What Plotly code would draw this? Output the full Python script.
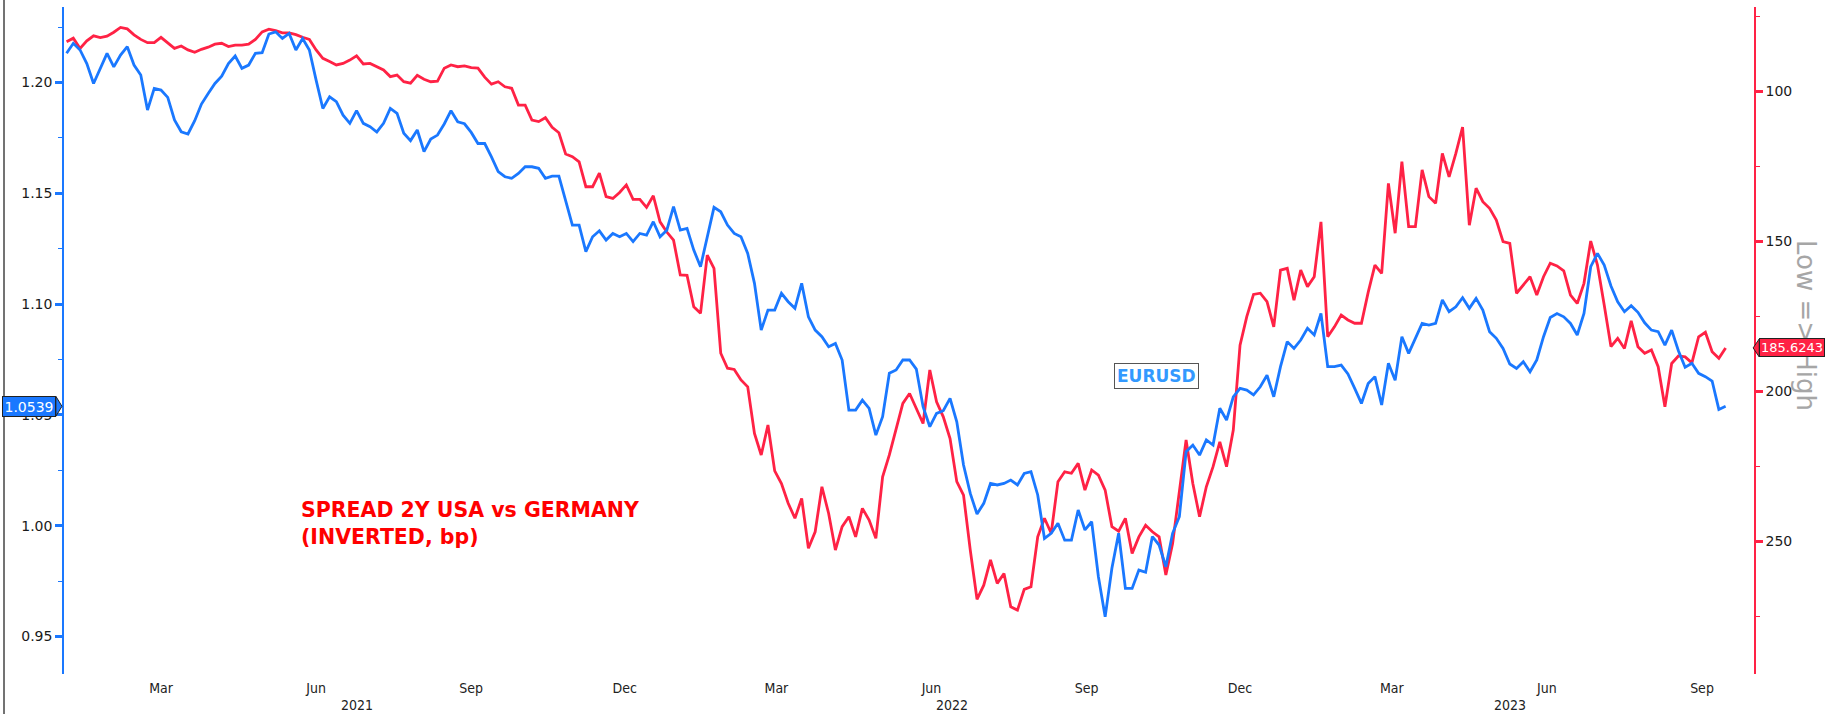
import pandas as pd
import plotly.graph_objects as go

# ---------------- data ----------------
START_DATE = "2021-01-04"
STEP = "4D"

eurusd = [
    1.2132, 1.2177, 1.2147, 1.2086, 1.1996, 1.2064, 1.2132, 1.2071, 1.2124, 1.2162,
    1.2079, 1.2034, 1.1876, 1.1974, 1.1966, 1.1933, 1.1831, 1.1778, 1.1768, 1.1828,
    1.1903, 1.1951, 1.1996, 1.2029, 1.2086, 1.2120, 1.2064, 1.2079, 1.2132, 1.2135,
    1.2219, 1.2229, 1.2199, 1.2222, 1.2147, 1.2199, 1.2147, 1.2011, 1.1883, 1.1936,
    1.1914, 1.1853, 1.1816, 1.1873, 1.1816, 1.1801, 1.1777, 1.1816, 1.1883, 1.1861,
    1.1771, 1.1738, 1.1786, 1.1688, 1.1745, 1.1763, 1.1813, 1.1873, 1.1823, 1.1814,
    1.1775, 1.1725, 1.1725, 1.1665, 1.1598, 1.1575, 1.1568, 1.1590, 1.1620, 1.1620,
    1.1613, 1.1568, 1.1578, 1.1578, 1.1462, 1.1357, 1.1357, 1.1237, 1.1304, 1.1331,
    1.1289, 1.1319, 1.1304, 1.1319, 1.1282, 1.1319, 1.1312, 1.1372, 1.1304, 1.1334,
    1.1440, 1.1334, 1.1342, 1.1244, 1.1169, 1.1304, 1.1437, 1.1417, 1.1357, 1.1319,
    1.1304, 1.1229, 1.1094, 1.0883, 1.0973, 1.0973, 1.1049, 1.1011, 1.0981, 1.1094,
    1.0943, 1.0883, 1.0853, 1.0808, 1.0823, 1.0748, 1.0522, 1.0522, 1.0567, 1.0530,
    1.0409, 1.0492, 1.0688, 1.0703, 1.0748, 1.0748, 1.0707, 1.0537, 1.0447, 1.0507,
    1.0519, 1.0575, 1.0469, 1.0274, 1.0146, 1.0053, 1.0101, 1.0191, 1.0184, 1.0191,
    1.0206, 1.0184, 1.0236, 1.0244, 1.0139, 0.9943, 0.9966, 1.0011, 0.9935, 0.9935,
    1.0071, 0.9981, 1.0018, 0.9770, 0.9589, 0.9808, 0.9966, 0.9717, 0.9717, 0.9800,
    0.9790, 0.9951, 0.9913, 0.9815, 0.9966, 1.0041, 1.0334, 1.0364, 1.0319, 1.0387,
    1.0364, 1.0530, 1.0477, 1.0582, 1.0620, 1.0612, 1.0591, 1.0627, 1.0679, 1.0582,
    1.0718, 1.0831, 1.0800, 1.0838, 1.0891, 1.0861, 1.0958, 1.0718, 1.0718, 1.0725,
    1.0685, 1.0620, 1.0552, 1.0642, 1.0673, 1.0545, 1.0733, 1.0657, 1.0853, 1.0778,
    1.0846, 1.0913, 1.0906, 1.0913, 1.1019, 1.0966, 1.0988, 1.1029, 1.0981, 1.1026,
    1.0973, 1.0876, 1.0846, 1.0800, 1.0730, 1.0710, 1.0740, 1.0695, 1.0748, 1.0853,
    1.0940, 1.0958, 1.0943, 1.0913, 1.0861, 1.0958, 1.1169, 1.1229, 1.1176, 1.1082,
    1.1011, 1.0966, 1.0993, 1.0963, 1.0916, 1.0883, 1.0876, 1.0815, 1.0883, 1.0790,
    1.0715, 1.0733, 1.0688, 1.0673, 1.0653, 1.0525, 1.0539,
]

spread_bp = [
    83.6, 82.4, 85.8, 83.3, 81.6, 82.2, 81.7, 80.4, 78.8, 79.3,
    81.3, 82.8, 83.9, 83.9, 82.1, 84.1, 85.8, 85.0, 86.3, 87.1,
    86.1, 85.4, 84.4, 84.1, 85.2, 84.7, 84.7, 84.4, 82.8, 80.3,
    79.4, 79.9, 80.6, 80.6, 81.2, 82.1, 82.8, 86.3, 89.1, 90.2,
    91.3, 90.8, 89.7, 88.3, 91.0, 90.8, 91.9, 93.0, 95.2, 94.7,
    96.9, 97.4, 94.8, 96.1, 96.9, 96.7, 92.4, 91.3, 91.9, 91.6,
    92.2, 92.4, 95.4, 97.7, 96.9, 98.6, 99.1, 104.7, 104.7, 109.7,
    110.2, 108.9, 112.1, 113.9, 121.0, 121.9, 123.6, 131.9, 131.9, 127.4,
    135.2, 135.8, 133.8, 131.3, 136.1, 136.1, 138.8, 134.9, 143.6, 147.0,
    149.7, 161.3, 161.4, 171.9, 174.1, 154.7, 159.1, 187.4, 192.4, 192.8,
    196.3, 198.6, 214.1, 221.3, 211.3, 226.6, 230.8, 237.4, 242.4, 235.8,
    252.4, 246.9, 231.9, 240.8, 253.0, 245.2, 241.9, 248.6, 239.1, 243.0,
    249.1, 228.6, 221.3, 212.4, 204.1, 200.8, 205.8, 210.8, 193.0, 203.6,
    208.6, 215.8, 230.2, 234.7, 253.0, 269.4, 264.7, 256.3, 264.1, 260.8,
    271.9, 273.0, 266.1, 265.2, 248.6, 242.4, 247.4, 230.2, 226.9, 227.4,
    224.1, 233.0, 226.3, 228.0, 233.0, 245.2, 246.7, 242.4, 254.1, 248.6,
    244.7, 246.9, 248.6, 261.3, 250.8, 233.0, 216.3, 230.8, 241.9, 231.9,
    225.2, 216.9, 225.2, 213.0, 184.7, 175.2, 167.8, 167.4, 170.2, 178.6,
    159.7, 159.1, 169.7, 159.7, 165.2, 161.9, 143.6, 181.9, 178.6, 174.7,
    176.3, 177.4, 177.4, 167.1, 158.0, 160.8, 130.8, 147.4, 123.5, 145.2,
    145.2, 126.3, 135.2, 137.4, 120.8, 128.6, 120.8, 112.0, 144.7, 132.4,
    136.9, 139.1, 143.0, 150.2, 150.8, 167.4, 164.7, 161.9, 168.0, 161.9,
    157.4, 158.3, 159.9, 168.0, 170.8, 164.1, 150.0, 158.0, 171.3, 185.2,
    182.4, 185.8, 176.6, 185.2, 187.4, 186.3, 191.9, 205.2, 190.8, 188.3,
    188.6, 190.6, 181.9, 180.4, 186.9, 189.1, 185.6243,
]

month_tick_dates = ["2021-03-01", "2021-06-01", "2021-09-01", "2021-12-01",
                    "2022-03-01", "2022-06-01", "2022-09-01", "2022-12-01",
                    "2023-03-01", "2023-06-01", "2023-09-01"]
month_tick_text = ["Mar", "Jun", "Sep", "Dec", "Mar", "Jun", "Sep", "Dec", "Mar", "Jun", "Sep"]
year_labels = ["2021", "2022", "2023"]
year_label_dates = ["2021-06-25 12:00", "2022-06-13", "2023-05-10"]

eur_ticks = [0.95, 1.00, 1.05, 1.10, 1.15, 1.20]
eur_minor = [0.975, 1.025, 1.075, 1.125, 1.175, 1.225]
spr_ticks = [100, 150, 200, 250]
spr_minor = [75, 125, 175, 225, 275]

dates = pd.date_range(START_DATE, periods=len(eurusd), freq=STEP)

BLUE = "#1a78ff"
RED = "#ff2245"
NARROW = "Liberation Sans Narrow, DejaVu Sans Condensed, Arial Narrow, sans-serif"
TICKFONT = dict(family="DejaVu Sans, Verdana, sans-serif", size=14, color="#1a1a1a")

fig = go.Figure()
fig.add_trace(go.Scatter(x=dates, y=spread_bp, mode="lines", yaxis="y",
                         line=dict(color=RED, width=2.8), hoverinfo="skip"))
fig.add_trace(go.Scatter(x=dates, y=eurusd, mode="lines", yaxis="y2",
                         line=dict(color=BLUE, width=2.8), hoverinfo="skip"))

fig.update_layout(
    width=1826, height=714,
    margin=dict(l=64, r=72, t=7, b=40),
    paper_bgcolor="white", plot_bgcolor="white",
    showlegend=False,
    hovermode=False,
    xaxis=dict(type="date", range=["2021-01-02 11:17", "2023-10-01 20:10"],
               tickmode="array", tickvals=month_tick_dates, ticktext=month_tick_text,
               showgrid=False, showline=False, zeroline=False, ticks="",
               ticklabelstandoff=4,
               tickfont=dict(family=NARROW, size=14, color="#222")),
    yaxis=dict(side="right", range=[294.3, 72], tickmode="array", tickvals=spr_ticks,
               showgrid=False, zeroline=False, showline=True, linecolor=RED, linewidth=1.5,
               ticks="outside", ticklen=7, tickwidth=2.5, tickcolor=RED,
               minor=dict(tickmode="array", tickvals=spr_minor, ticks="outside",
                          ticklen=4, tickwidth=1, tickcolor=RED, showgrid=False),
               tickfont=TICKFONT),
    yaxis2=dict(side="left", overlaying="y", range=[0.9331, 1.2341], tickmode="array",
                tickvals=eur_ticks, tickformat=".2f",
                showgrid=False, zeroline=False, showline=True, linecolor=BLUE, linewidth=1.5,
                ticks="outside", ticklen=7, tickwidth=2.5, tickcolor=BLUE,
                minor=dict(tickmode="array", tickvals=eur_minor, ticks="outside",
                           ticklen=4, tickwidth=1, tickcolor=BLUE, showgrid=False),
                tickfont=TICKFONT),
)

annotations = []
for lab, d in zip(year_labels, year_label_dates):
    annotations.append(dict(x=d, xref="x", y=-0.0465, yref="paper", text=lab,
                            showarrow=False, xanchor="center", yanchor="middle",
                            font=dict(family=NARROW, size=14, color="#222")))

annotations.append(dict(x=0.139, xref="paper", y=0.2249, yref="paper",
                        text="<b>SPREAD 2Y USA vs GERMANY<br>(INVERTED, bp)</b>",
                        showarrow=False, xanchor="left", yanchor="middle", align="left",
                        font=dict(family="DejaVu Sans, Verdana, sans-serif", size=20.5, color="#ff0000")))

annotations.append(dict(x=0.6462, xref="paper", y=0.4475, yref="paper",
                        text="<b>EURUSD</b>", showarrow=False, xanchor="center", yanchor="middle",
                        bgcolor="white", bordercolor="#555", borderwidth=1, borderpad=2,
                        font=dict(family="DejaVu Sans, Verdana, sans-serif", size=17, color="#3399ff")))

annotations.append(dict(x=1.0308, xref="paper", y=0.5232, yref="paper",
                        text="Low => High", textangle=90, showarrow=False,
                        xanchor="center", yanchor="middle",
                        font=dict(family="DejaVu Sans, sans-serif", size=26, color="#a6a6a6")))

# last-value markers
annotations.append(dict(x=-0.0047, xref="paper", y=eurusd[-1], yref="y2",
                        text=f"{eurusd[-1]:.4f}", showarrow=False, xanchor="right", yanchor="middle",
                        bgcolor=BLUE, bordercolor="#222", borderwidth=1, borderpad=1.5,
                        font=dict(family="DejaVu Sans, Verdana, sans-serif", size=14, color="white")))
annotations.append(dict(x=1.0030, xref="paper", y=spread_bp[-1], yref="y",
                        text=f"{spread_bp[-1]:.4f}", showarrow=False, xanchor="left", yanchor="middle",
                        bgcolor=RED, bordercolor="#222", borderwidth=1, borderpad=1,
                        font=dict(family="DejaVu Sans, Verdana, sans-serif", size=13, color="white")))

fig.update_layout(annotations=annotations)

# arrow tips of the last-value markers and left window border
e_last = eurusd[-1]
s_last = spread_bp[-1]
shapes = [
    dict(type="path", xref="paper", yref="y2",
         path=f"M -0.0048,{e_last + 0.0045} L -0.0012,{e_last} L -0.0048,{e_last - 0.0045} Z",
         fillcolor=BLUE, line=dict(color="#222", width=1)),
    dict(type="path", xref="paper", yref="y",
         path=f"M 1.0031,{s_last - 3.0} L 0.9995,{s_last} L 1.0031,{s_last + 3.0} Z",
         fillcolor=RED, line=dict(color="#222", width=1)),
    dict(type="line", xref="paper", yref="paper", x0=-0.0355, x1=-0.0355, y0=-0.06, y1=1.0105,
         line=dict(color="#444", width=1.5)),
]
fig.update_layout(shapes=shapes)

fig.write_html("out.html", config={"displayModeBar": False},
               post_script="document.body.style.margin='0px';document.body.style.overflow='hidden';")
